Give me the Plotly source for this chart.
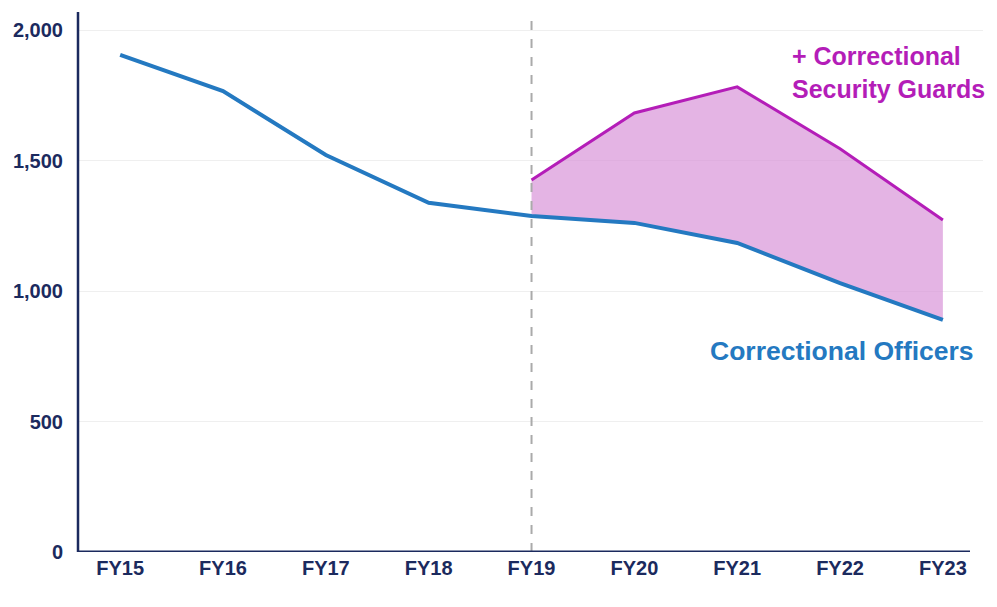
import plotly.graph_objects as go

years = ["FY15", "FY16", "FY17", "FY18", "FY19", "FY20", "FY21", "FY22", "FY23"]
officers = [1905, 1766, 1521, 1338, 1287, 1261, 1184, 1030, 889]
guard_years = ["FY19", "FY20", "FY21", "FY22", "FY23"]
with_guards = [1425, 1682, 1782, 1545, 1272]
y_ticks = [0, 500, 1000, 1500, 2000]
y_tick_labels = ["0", "500", "1,000", "1,500", "2,000"]

NAVY = "#1B2A5E"
BLUE = "#2479C1"
MAGENTA = "#B41DB8"
FILL = "rgba(214,140,214,0.65)"
FONT = "Liberation Sans, Arial, sans-serif"

# page body has an 8px margin; plot area target (page px): x 78..983, y 12..552
OFF = 8
W, H = 997 - OFF, 607 - OFF
L, R, T, B = 78 - OFF, 14, 12 - OFF, 55
PW = W - L - R
PH = H - T - B


def px_x(px):
    return (px - 78) / PW


def px_y(py):
    return (552 - py) / PH


officers_overlap = [officers[years.index(y)] for y in guard_years]

fig = go.Figure()
fig.add_trace(go.Scatter(x=guard_years, y=officers_overlap, mode="lines",
                         line=dict(width=0, color=BLUE), showlegend=False, hoverinfo="skip"))
fig.add_trace(go.Scatter(x=guard_years, y=with_guards, mode="lines", fill="tonexty",
                         fillcolor=FILL, line=dict(color=MAGENTA, width=3), showlegend=False))
fig.add_trace(go.Scatter(x=years, y=officers, mode="lines",
                         line=dict(color=BLUE, width=4), showlegend=False))

# vertical dashed divider at FY19
fig.add_shape(type="line", xref="x", yref="paper", x0=4, x1=4, y0=0, y1=1,
              line=dict(color="#AAAAAA", width=2, dash="dash"), layer="above")
# axis lines
fig.add_shape(type="line", xref="paper", yref="paper", x0=0, x1=0, y0=0, y1=1,
              line=dict(color=NAVY, width=2.5))
fig.add_shape(type="line", xref="paper", yref="y", x0=0, x1=px_x(970), y0=0, y1=0,
              line=dict(color=NAVY, width=3))

fig.add_annotation(xref="paper", yref="paper", x=px_x(790), y=px_y(72.5),
                   xanchor="left", yanchor="middle", align="left", showarrow=False,
                   text="+ Correctional<br>Security Guards",
                   font=dict(family=FONT, size=25, color=MAGENTA, weight="bold"))
fig.add_annotation(xref="paper", yref="paper", x=px_x(976), y=px_y(351),
                   xanchor="right", yanchor="middle", showarrow=False,
                   text="Correctional Officers",
                   font=dict(family=FONT, size=26.5, color=BLUE, weight="bold"))

fig.update_layout(
    width=W, height=H,
    margin=dict(l=L, r=R, t=T, b=B),
    paper_bgcolor="white", plot_bgcolor="white",
    font=dict(family=FONT, color=NAVY),
    xaxis=dict(type="category", categoryorder="array", categoryarray=years,
               range=[-0.41, 8.39], showgrid=False, showline=False, zeroline=False,
               ticks="", tickfont=dict(family=FONT, size=20, color=NAVY, weight="bold"),
               ticklabelstandoff=2),
    yaxis=dict(range=[0, 2069], tickvals=y_ticks, ticktext=y_tick_labels,
               showgrid=True, gridcolor="#EFEFEF", gridwidth=1, zeroline=False,
               showline=False, ticks="",
               tickfont=dict(family=FONT, size=20, color=NAVY, weight="bold"),
               ticklabelstandoff=14),
)

fig.write_html("out.html")
